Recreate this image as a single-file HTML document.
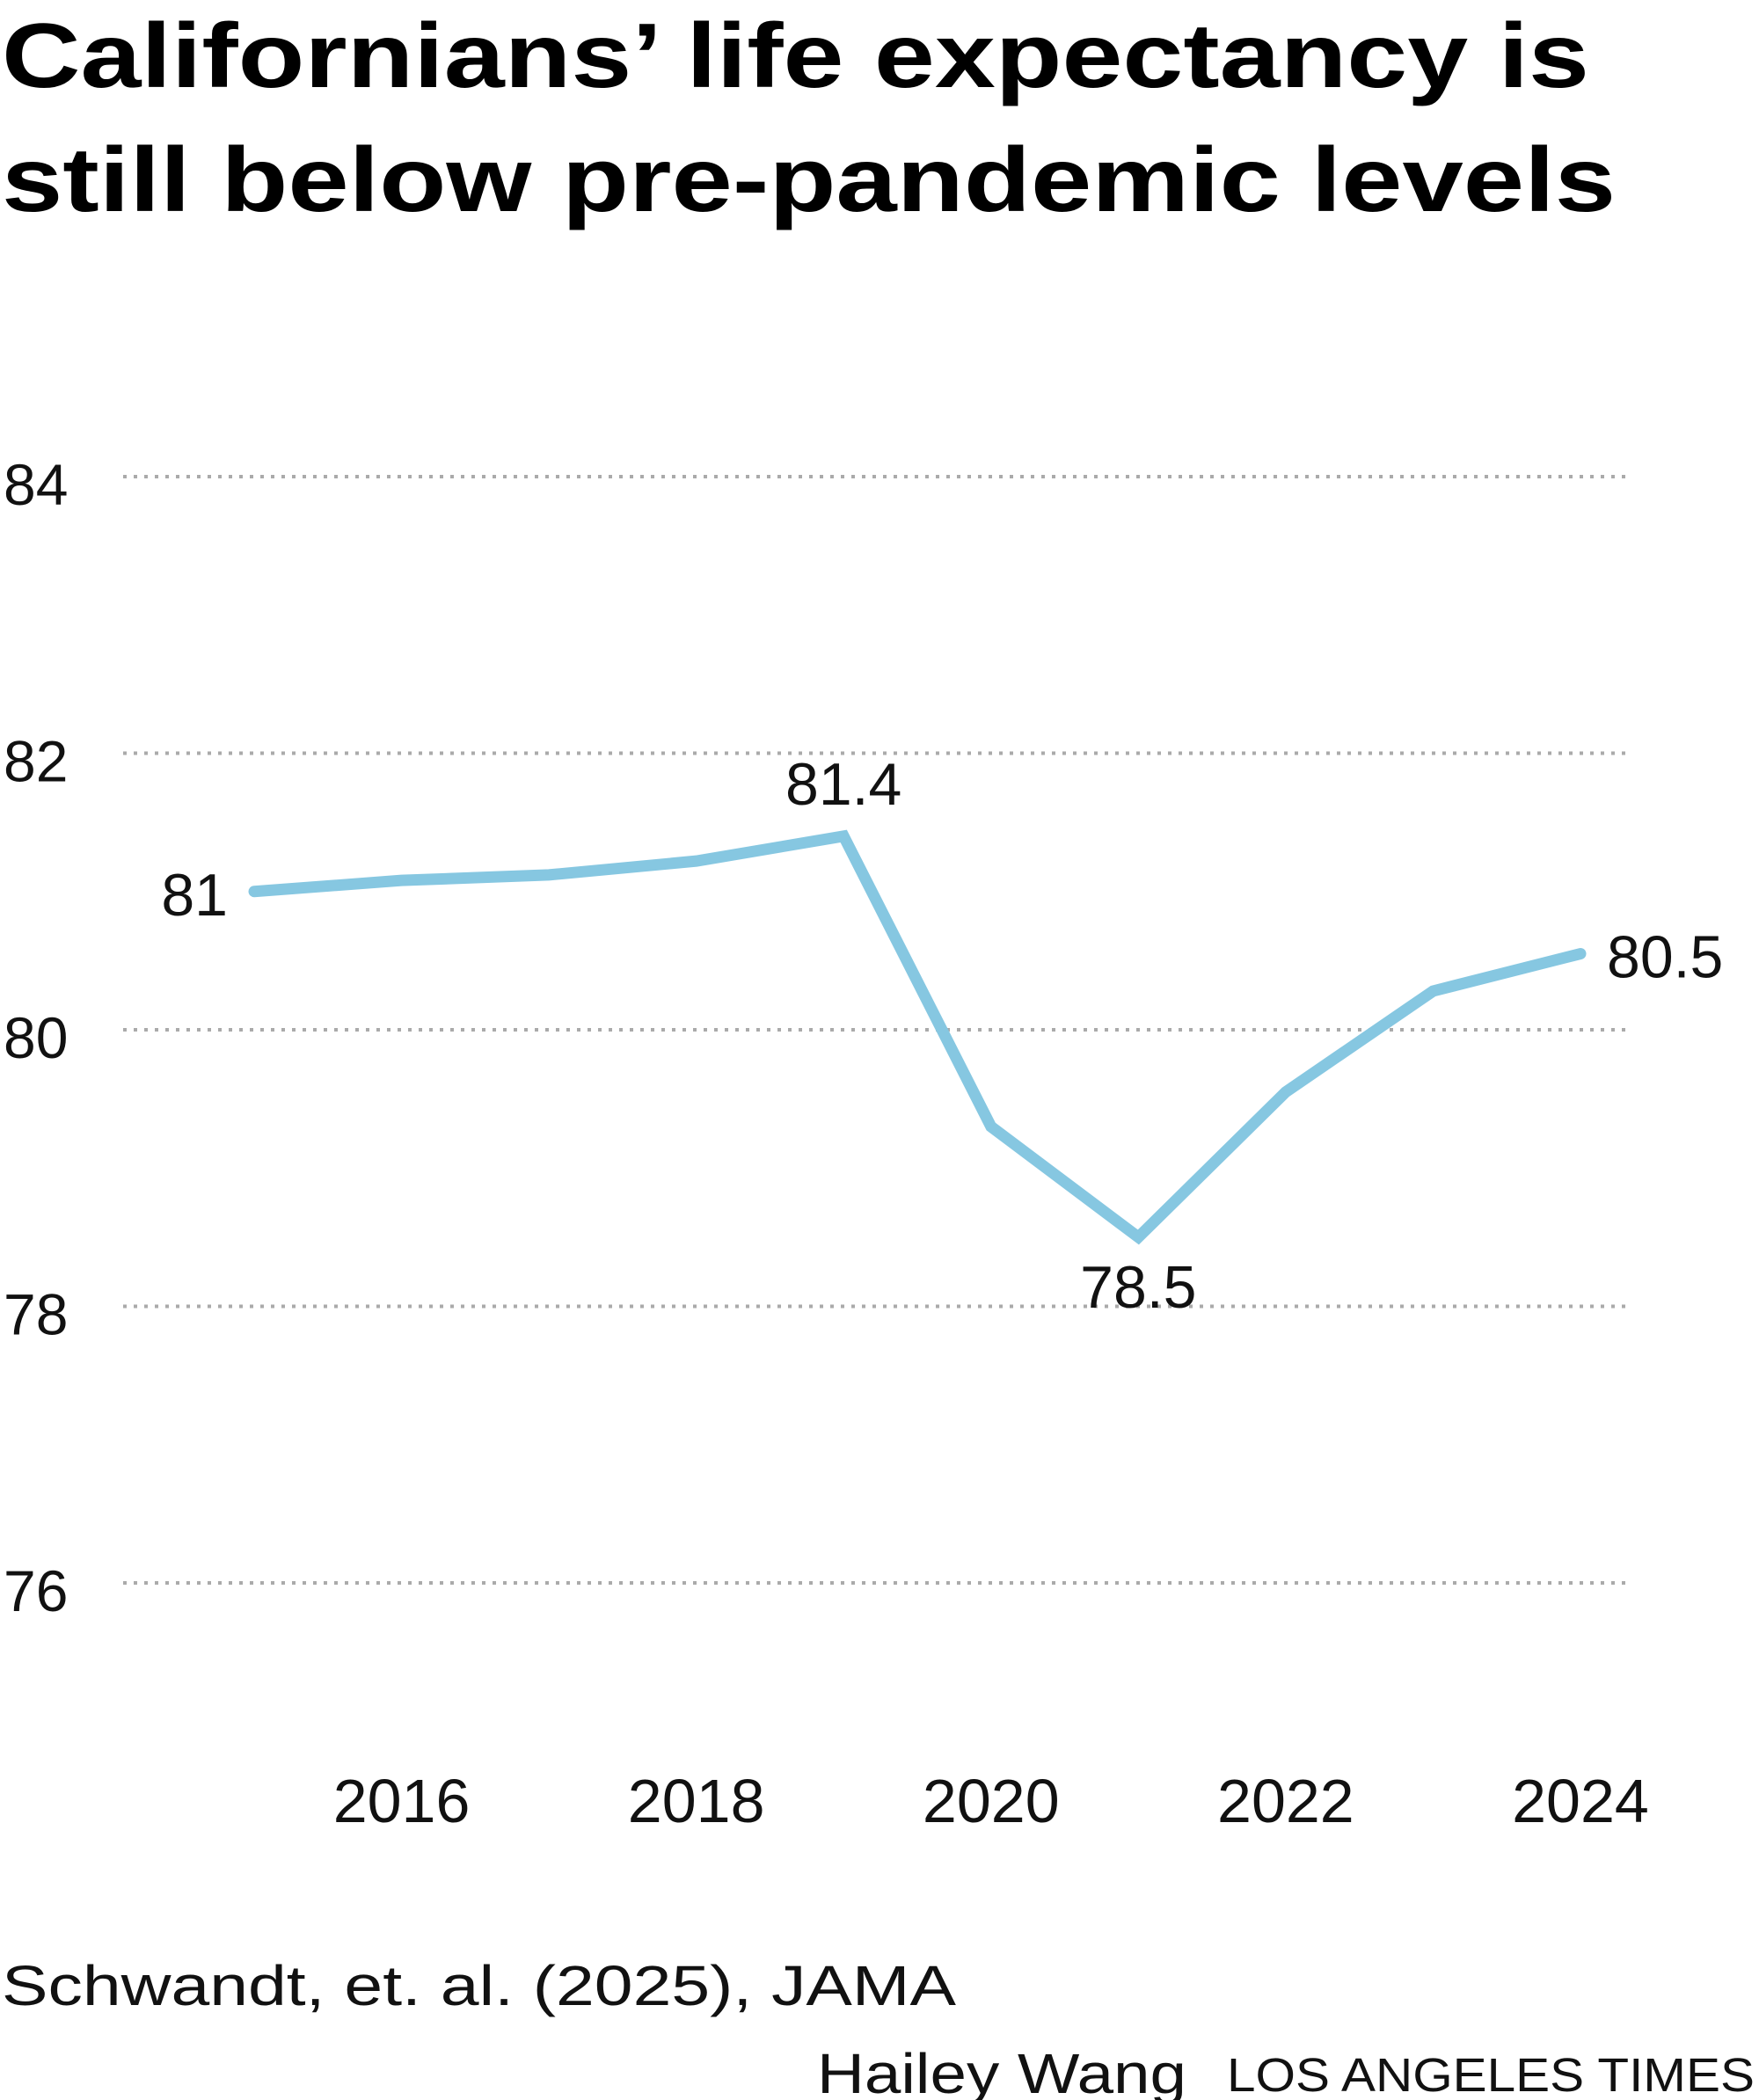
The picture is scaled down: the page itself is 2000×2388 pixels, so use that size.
<!DOCTYPE html>
<html><head><meta charset="utf-8"><style>
html,body{margin:0;padding:0;background:#fff}
svg{display:block}
text{font-family:"Liberation Sans",sans-serif}
</style></head><body>
<svg id="chart" width="2000" height="2388" viewBox="0 0 2000 2388" xmlns="http://www.w3.org/2000/svg">
<text x="2" y="99" font-size="104" font-weight="bold" fill="#000" textLength="1805" lengthAdjust="spacingAndGlyphs">Californians’ life expectancy is</text>
<text x="2" y="240" font-size="104" font-weight="bold" fill="#000" textLength="1835" lengthAdjust="spacingAndGlyphs">still below pre-pandemic levels</text>
<g id="grid"></g>
<g id="yticks"></g>
<g id="xticks"></g>
<g id="series"></g>
<g id="labels"></g>
<text x="2" y="2280" font-size="64" fill="#111" textLength="1085" lengthAdjust="spacingAndGlyphs">Schwandt, et. al. (2025), JAMA</text>
<text x="929" y="2380" font-size="64" fill="#111" textLength="420" lengthAdjust="spacingAndGlyphs">Hailey Wang</text>
<text x="1395" y="2378" font-size="54" fill="#111" textLength="600" lengthAdjust="spacingAndGlyphs">LOS ANGELES TIMES</text>
</svg>
<script>
const years = [2015,2016,2017,2018,2019,2020,2021,2022,2023,2024];
const values = [81.0,81.08,81.12,81.22,81.4,79.3,78.5,79.55,80.28,80.55];
const yTicks = [84,82,80,78,76];
const xTicks = [2016,2018,2020,2022,2024];
const annoYears = [2015,2019,2021,2024];
const annoText = ["81","81.4","78.5","80.5"];

const NS="http://www.w3.org/2000/svg";
const x = yr => 289 + (yr-2015)*(1797-289)/9;
const y = v => 542 + (84-v)*(1800-542)/8;
function mk(tag, parent){const e=document.createElementNS(NS,tag);document.getElementById(parent).appendChild(e);return e;}

yTicks.forEach(t=>{
  const l=mk('line','grid');
  
  
  l.setAttribute('x1',140);l.setAttribute('x2',1856);
  l.setAttribute('y1',y(t));l.setAttribute('y2',y(t));
  l.setAttribute('stroke','#aaa');l.setAttribute('stroke-width',4);
  l.setAttribute('stroke-dasharray','4 8');
  const tx=mk('text','yticks');
  
  
  tx.setAttribute('x',4);tx.setAttribute('y',y(t)+32);
  tx.setAttribute('font-size',66);tx.setAttribute('fill','#111');
  tx.textContent=t;
});
xTicks.forEach(t=>{
  const tx=mk('text','xticks');
  
  
  tx.setAttribute('x',x(t));tx.setAttribute('y',2072);
  tx.setAttribute('text-anchor','middle');
  tx.setAttribute('font-size',70);tx.setAttribute('fill','#111');
  tx.textContent=t;
});
const p=mk('polyline','series');


p.setAttribute('points',years.map((yr,i)=>x(yr)+','+y(values[i])).join(' '));
p.setAttribute('fill','none');p.setAttribute('stroke','#86c7e1');
p.setAttribute('stroke-width',13);p.setAttribute('stroke-linecap','round');p.setAttribute('stroke-linejoin','miter');

annoYears.forEach((yr,i)=>{
  const v=values[years.indexOf(yr)];
  const tx=mk('text','labels');
  
  
  tx.setAttribute('font-size',68);tx.setAttribute('fill','#111');
  let xx=x(yr), yy=y(v), anchor='middle';
  if(i===0){xx-=30;yy+=27;anchor='end';}
  else if(i===1){yy-=36;}
  else if(i===2){yy+=80;}
  else {xx+=30;yy+=27;anchor='start';}
  tx.setAttribute('x',xx);tx.setAttribute('y',yy);tx.setAttribute('text-anchor',anchor);
  tx.textContent=annoText[i];
});
</script>
</body></html>
